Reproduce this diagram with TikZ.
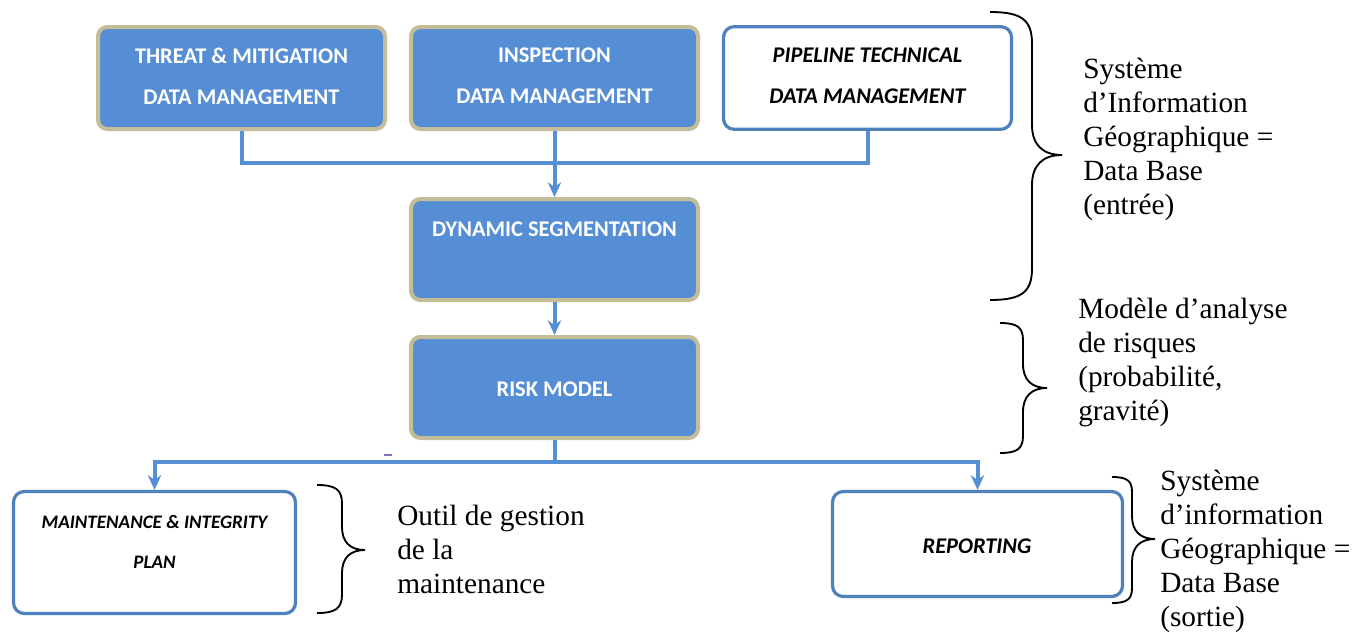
\documentclass[tikz,border=0pt]{standalone}
\usepackage{fontspec}
\setmainfont{Liberation Serif}
\newfontfamily\boxfont{Carlito}
\usetikzlibrary{arrows.meta}
\definecolor{fillblue}{HTML}{558ED5}
\definecolor{tanline}{HTML}{C4BD97}
\definecolor{edgeblue}{HTML}{4F81BD}
\definecolor{connblue}{HTML}{5590D6}
\definecolor{markpurple}{HTML}{8A6CC0}
\newcommand\drawcurly[6]{%
 \pgfmathsetmacro\ca{0.75*(#3-#1)}%
 \pgfmathsetmacro\cb{1.0*(#4-#3)}%
 \draw[bracestyle] (#1,#2) .. controls ({#3-0.25*(#3-#1)},#2) and (#3,{#2+0.25*\ca}) .. (#3,{#2+\ca})
   -- (#3,{#5-\cb}) .. controls (#3,{#5-0.35*\cb}) and ({#3+0.35*(#4-#3)},#5) .. (#4,#5)
   .. controls ({#3+0.35*(#4-#3)},#5) and (#3,{#5+0.35*\cb}) .. (#3,{#5+\cb})
   -- (#3,{#6-\ca}) .. controls (#3,{#6-0.25*\ca}) and ({#3-0.25*(#3-#1)},#6) .. (#1,#6);}
\begin{document}
\begin{tikzpicture}[x=0.75pt,y=-0.75pt,
  bluebox/.style={draw=tanline, line width=3pt, fill=fillblue, rounded corners=7pt, inner sep=0pt},
  whitebox/.style={draw=edgeblue, line width=2.4pt, fill=white, rounded corners=8pt, inner sep=0pt},
  wtext/.style={text=white, font=\boxfont\bfseries\fontsize{16.8pt}{30.75pt}\selectfont, align=center, inner sep=0pt},
  ktext/.style={text=black, font=\boxfont\bfseries\itshape\fontsize{16.8pt}{30.75pt}\selectfont, align=center, inner sep=0pt},
  ksmall/.style={text=black, font=\boxfont\bfseries\itshape\fontsize{14.3pt}{30pt}\selectfont, align=center, inner sep=0pt},
  serif/.style={anchor=base west, inner sep=0pt, font=\fontsize{22pt}{25.5pt}\selectfont},
  conn/.style={draw=connblue, line width=3pt, line join=miter},
  arr/.style={-{Stealth[length=11pt,width=10pt,inset=3.5pt]}},
  bracestyle/.style={draw=black, line width=1.4pt}]
\useasboundingbox (0,0) rectangle (1365,632);
\fill[white] (0,0) rectangle (1365,632);

% boxes
\node[bluebox, minimum width=215.25pt, minimum height=76.5pt] (threat) at (241.5,78) {};
\node[bluebox, minimum width=215.25pt, minimum height=76.5pt] (insp) at (554.5,78) {};
\node[whitebox, minimum width=216pt, minimum height=77pt] (pipe) at (867.5,78) {};
\node[bluebox, minimum width=215.25pt, minimum height=75.75pt] (dyn) at (554.5,249.5) {};
\node[bluebox, minimum width=215.25pt, minimum height=75.75pt] (risk) at (554.5,387.5) {};
\node[whitebox, minimum width=211.5pt, minimum height=91.5pt] (maint) at (154.5,552.5) {};
\node[whitebox, minimum width=217.5pt, minimum height=78.75pt] (rep) at (977.5,544) {};

% box texts
\node[wtext] (threatT) at (241.5,76) {THREAT \& MITIGATION\\DATA MANAGEMENT};
\node[wtext] (inspT) at (554.5,76) {INSPECTION\\DATA MANAGEMENT};
\node[ktext] (pipeT) at (867.5,76) {PIPELINE TECHNICAL\\DATA MANAGEMENT};
\node[wtext] (dynT) at (554.5,229) {DYNAMIC SEGMENTATION};
\node[wtext] (riskT) at (554.5,389) {RISK MODEL};
\node[ksmall] (maintT) at (154.5,542) {MAINTENANCE \& INTEGRITY\\PLAN};
\node[ktext] (repT) at (977,546) {REPORTING};

% connectors
\coordinate (bus) at (554.5,163);
\coordinate (split) at (554.5,462);
\draw[conn] (threat.south) |- (bus) -| (pipe.south);
\draw[conn, arr] (insp.south) -- (dyn.north);
\draw[conn, arr] (dyn.south) -- (risk.north);
\draw[conn] (risk.south) -- (split);
\draw[conn, arr] (split) -| (maint.north);
\draw[conn, arr] (split) -| (rep.north);
\draw[markpurple, line width=0.8pt] (384,455) -- (392,455);

% braces
\drawcurly{990}{12}{1032}{1062}{155}{300}
\drawcurly{1000}{323}{1023}{1047}{388}{453}
\drawcurly{317}{485}{342}{365}{550}{613}
\drawcurly{1112}{477}{1132}{1155}{539}{603}

% side texts
\node[serif] (sig1) at (1083,78) {\parbox[t]{220pt}{\raggedright Système\\d’Information\\Géographique =\\Data Base\\(entrée)}};
\node[serif] (modele) at (1078,318) {\parbox[t]{220pt}{\raggedright Modèle d’analyse\\de risques\\(probabilité,\\gravité)}};
\node[serif] (outil) at (397,525) {\parbox[t]{220pt}{\raggedright Outil de gestion\\de la\\maintenance}};
\node[serif] (sig2) at (1160,490) {\parbox[t]{220pt}{\raggedright Système\\d’information\\Géographique =\\Data Base\\(sortie)}};
\end{tikzpicture}
\end{document}
